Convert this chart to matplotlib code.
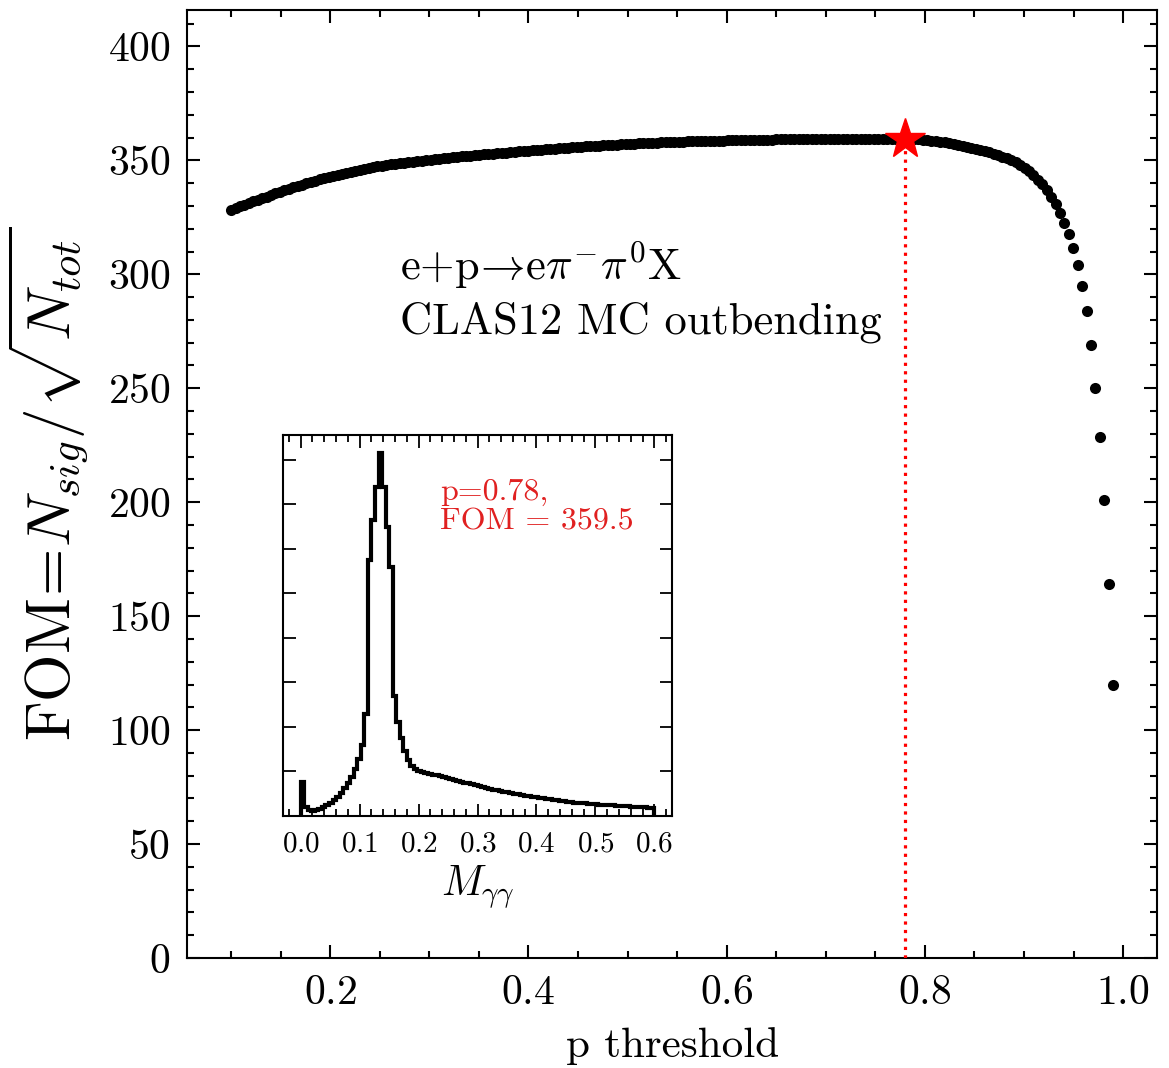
import numpy as np
import matplotlib
matplotlib.use("agg")
import matplotlib.pyplot as plt
from matplotlib.ticker import AutoMinorLocator, MultipleLocator

plt.rcParams['font.family'] = 'serif'
plt.rcParams['font.serif'] = ['cmr10']
plt.rcParams['mathtext.fontset'] = 'cm'
plt.rcParams['axes.formatter.use_mathtext'] = True

# FOM scan over the classifier threshold (200 thresholds between 0.1 and 0.99)
p_min, p_max, n_p = 0.1, 0.99, 200
fom = [
    328.4, 329.2, 329.9, 330.6, 331.3, 332.0, 332.7, 333.4, 334.1, 334.8,
    335.5, 336.2, 336.8, 337.5, 338.1, 338.7, 339.3, 339.9, 340.5, 341.1,
    341.6, 342.1, 342.7, 343.2, 343.7, 344.2, 344.6, 345.0, 345.5, 345.9,
    346.3, 346.6, 347.0, 347.3, 347.6, 347.9, 348.2, 348.4, 348.7, 348.9,
    349.2, 349.4, 349.6, 349.9, 350.1, 350.3, 350.5, 350.7, 350.9, 351.1,
    351.3, 351.5, 351.7, 351.8, 352.0, 352.2, 352.4, 352.6, 352.7, 352.9,
    353.1, 353.3, 353.4, 353.6, 353.7, 353.9, 354.1, 354.2, 354.4, 354.5,
    354.7, 354.8, 355.0, 355.1, 355.3, 355.4, 355.6, 355.7, 355.8, 356.0,
    356.1, 356.2, 356.4, 356.5, 356.6, 356.7, 356.8, 356.9, 357.0, 357.1,
    357.2, 357.3, 357.4, 357.5, 357.6, 357.7, 357.8, 357.9, 357.9, 358.0,
    358.1, 358.2, 358.2, 358.3, 358.3, 358.4, 358.5, 358.5, 358.6, 358.6,
    358.7, 358.7, 358.8, 358.8, 358.9, 358.9, 358.9, 359.0, 359.0, 359.0,
    359.1, 359.1, 359.1, 359.2, 359.2, 359.2, 359.2, 359.2, 359.3, 359.3,
    359.3, 359.3, 359.3, 359.3, 359.4, 359.4, 359.4, 359.4, 359.4, 359.4,
    359.4, 359.4, 359.4, 359.4, 359.4, 359.4, 359.4, 359.4, 359.4, 359.4,
    359.5, 359.5, 359.5, 359.4, 359.4, 359.2, 359.1, 358.9, 358.7, 358.5,
    358.2, 357.9, 357.6, 357.2, 356.8, 356.3, 355.9, 355.5, 355.0, 354.5,
    354.0, 353.5, 352.9, 352.3, 351.6, 351.0, 350.1, 349.1, 348.0, 346.7,
    345.2, 343.5, 341.5, 339.5, 337.0, 334.0, 331.0, 327.0, 322.6, 317.8,
    311.7, 304.0, 295.0, 284.0, 269.0, 250.2, 228.7, 201.0, 164.2, 119.8,
]
p_best = 0.78
fom_best = 359.5

# M_gg spectrum after the cut, 100 bins over [0, 0.6]
mgg_lo, mgg_hi, mgg_nbins = 0.0, 0.6, 100
mgg_counts = [
    760, 200, 140, 120, 130, 160, 200, 250, 300, 360,
    430, 520, 620, 740, 880, 1050, 1280, 1600, 2300, 5750,
    6650, 7400, 8150, 7400, 6500, 5600, 2700, 2100, 1750, 1450,
    1250, 1120, 1060, 1020, 990, 970, 950, 930, 910, 890,
    870, 850, 830, 810, 790, 770, 750, 730, 710, 690,
    670, 650, 630, 610, 590, 575, 560, 545, 530, 515,
    500, 485, 470, 455, 440, 430, 420, 405, 395, 385,
    370, 360, 350, 340, 330, 320, 310, 300, 295, 290,
    280, 275, 270, 260, 255, 250, 245, 240, 235, 230,
    225, 220, 215, 210, 205, 200, 195, 190, 185, 180,
]

p_thr = np.linspace(p_min, p_max, n_p)
mgg_edges = np.linspace(mgg_lo, mgg_hi, mgg_nbins + 1)

fig = plt.figure(figsize=(11.69, 10.68), dpi=100)
ax = fig.add_axes([0.160, 0.103, 0.830, 0.8877])

ax.plot(p_thr, fom, 'o', color='black', ms=8, mec='none')
ax.plot([p_best, p_best], [0, fom_best], ':', color='red', lw=2.3, zorder=3)
ax.plot(p_best, fom_best, '*', color='red', ms=30, zorder=5)

ax.set_ylim(0, 416)
ax.xaxis.set_major_locator(MultipleLocator(0.2))
ax.xaxis.set_minor_locator(AutoMinorLocator(4))
ax.yaxis.set_major_locator(MultipleLocator(50))
ax.yaxis.set_minor_locator(AutoMinorLocator(5))
ax.tick_params(which='both', direction='in', top=True, right=True, width=1.5)
ax.tick_params(which='major', length=9.5, labelsize=30, pad=12)
ax.tick_params(which='minor', length=5)
for s in ax.spines.values():
    s.set_linewidth(1.5)

ax.set_xlabel('p threshold', fontsize=31)
ax.xaxis.set_label_coords(0.5, -0.073)
ax.set_ylabel(r'$\mathrm{FOM}\!=\!N_{sig}/\sqrt{N_{tot}}$', fontsize=44)
ax.yaxis.set_label_coords(-0.100, 0.5)

ax.text(0.2705, 297.5, r'e+p$\!\rightarrow\!$e$\pi^{-}\pi^{0}$X', fontsize=32, va='baseline')
ax.text(0.2705, 274.0, 'CLAS12 MC outbending', fontsize=32, va='baseline')

# inset: invariant mass of the photon pair
axin = fig.add_axes([0.2421, 0.2360, 0.3328, 0.3567])
axin.hist(mgg_edges[:-1], bins=mgg_edges, weights=mgg_counts,
          histtype='step', color='black', lw=3.0)
axin.xaxis.set_major_locator(MultipleLocator(0.1))
axin.xaxis.set_minor_locator(AutoMinorLocator(5))
axin.yaxis.set_major_locator(MultipleLocator(1000))
axin.set_yticklabels([])
axin.tick_params(which='both', direction='in', top=True, right=True, width=1.3)
axin.tick_params(which='major', length=9, labelsize=21, pad=11)
axin.tick_params(axis='x', which='minor', length=5)
for s in axin.spines.values():
    s.set_linewidth(1.5)
axin.set_xlabel(r'$M_{\gamma\gamma}$', fontsize=30, labelpad=4)
axin.text(0.404, 0.885, 'p=0.78,\nFOM = 359.5', transform=axin.transAxes,
          color='#e02020', fontsize=23, va='top', linespacing=1.1)

plt.savefig('out.png', dpi=100)
